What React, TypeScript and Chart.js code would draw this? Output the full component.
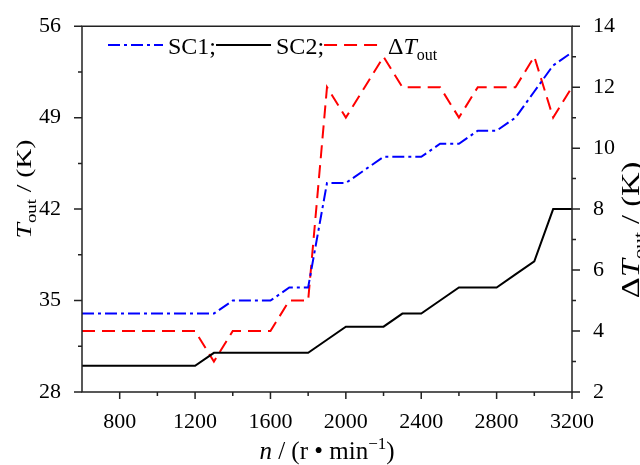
import React, { useEffect, useRef } from "react";
import { Chart, registerables } from "chart.js";

Chart.register(...registerables);

// ---- data ----
const speeds = [600, 700, 800, 900, 1000, 1100, 1200, 1300, 1400, 1500, 1600, 1700, 1800, 1900, 2000, 2100, 2200, 2300, 2400, 2500, 2600, 2700, 2800, 2900, 3000, 3100, 3200];
const sc1 = [34, 34, 34, 34, 34, 34, 34, 34, 35, 35, 35, 36, 36, 44, 44, 45, 46, 46, 46, 47, 47, 48, 48, 49, 51, 53, 54];
const sc2 = [30, 30, 30, 30, 30, 30, 30, 31, 31, 31, 31, 31, 31, 32, 33, 33, 33, 34, 34, 35, 36, 36, 36, 37, 38, 42, 42];
const deltaT = [4, 4, 4, 4, 4, 4, 4, 3, 4, 4, 4, 5, 5, 12, 11, 12, 13, 12, 12, 12, 11, 12, 12, 12, 13, 11, 12];

const xTicks = [800, 1200, 1600, 2000, 2400, 2800, 3200];
const xMinorTicks = [1000, 1400, 1800, 2200, 2600, 3000];
const leftTicks = [28, 35, 42, 49, 56];
const leftMinorTicks = [31.5, 38.5, 45.5, 52.5];
const rightTicks = [2, 4, 6, 8, 10, 12, 14];
const rightMinorTicks = [3, 5, 7, 9, 11, 13];

const seriesNames = ["SC1;", "SC2;"];

const FONT = '"Liberation Serif", "Times New Roman", serif';
const BLUE = "#0000ff";
const RED = "#ff0000";
const BLACK = "#000000";
const FRAME = "#222222";
const BLUE_DASH = [12, 4, 3, 4];
const RED_DASH = [13, 7];

type Seg = { t: string; italic?: boolean; sub?: boolean; sup?: boolean };

function segFont(s: Seg, size: number) {
  const sz = s.sub || s.sup ? Math.round(size * 0.66) : size;
  return `${s.italic ? "italic " : ""}${sz}px ${FONT}`;
}

function richWidth(ctx: CanvasRenderingContext2D, segs: Seg[], size: number) {
  let w = 0;
  for (const s of segs) {
    ctx.font = segFont(s, size);
    w += ctx.measureText(s.t).width;
  }
  return w;
}

function drawRich(ctx: CanvasRenderingContext2D, segs: Seg[], x: number, y: number, size: number, center: boolean) {
  const total = richWidth(ctx, segs, size);
  let cx = center ? x - total / 2 : x;
  ctx.textBaseline = "alphabetic";
  ctx.textAlign = "left";
  for (const s of segs) {
    ctx.font = segFont(s, size);
    const dy = s.sub ? size * 0.24 : s.sup ? -size * 0.4 : 0;
    ctx.fillText(s.t, cx, y + dy);
    cx += ctx.measureText(s.t).width;
  }
  return total;
}

const decorPlugin = {
  id: "decor",
  afterDraw(chart: any) {
    const ctx: CanvasRenderingContext2D = chart.ctx;
    const { left, right, top, bottom } = chart.chartArea;
    const xs = chart.scales.x;
    const yl = chart.scales.y;
    const yr = chart.scales.y1;
    ctx.save();
    // frame
    ctx.strokeStyle = FRAME;
    ctx.lineWidth = 1.5;
    ctx.setLineDash([]);
    ctx.beginPath();
    ctx.rect(left, top, right - left, bottom - top);
    ctx.stroke();
    // ticks
    ctx.beginPath();
    for (const v of leftTicks) { const p = yl.getPixelForValue(v); ctx.moveTo(left - 8, p); ctx.lineTo(left, p); }
    for (const v of leftMinorTicks) { const p = yl.getPixelForValue(v); ctx.moveTo(left - 4, p); ctx.lineTo(left, p); }
    for (const v of rightTicks) { const p = yr.getPixelForValue(v); ctx.moveTo(right, p); ctx.lineTo(right + 8, p); }
    for (const v of rightMinorTicks) { const p = yr.getPixelForValue(v); ctx.moveTo(right, p); ctx.lineTo(right + 4, p); }
    for (const v of xTicks) { const p = xs.getPixelForValue(v); ctx.moveTo(p, bottom); ctx.lineTo(p, bottom + 7); }
    for (const v of xMinorTicks) { const p = xs.getPixelForValue(v); ctx.moveTo(p, bottom); ctx.lineTo(p, bottom + 4); }
    ctx.stroke();

    ctx.fillStyle = BLACK;
    // left title
    ctx.save();
    ctx.translate(31, 189);
    ctx.rotate(-Math.PI / 2);
    ctx.scale(1.25, 1);
    drawRich(ctx, [{ t: "T", italic: true }, { t: "out", sub: true }, { t: " / (K)" }], 0, 0, 22, true);
    ctx.restore();
    // right title
    ctx.save();
    ctx.translate(639, 230);
    ctx.rotate(-Math.PI / 2);
    ctx.scale(1.25, 1);
    drawRich(ctx, [{ t: "Δ" }, { t: "T", italic: true }, { t: "out", sub: true }, { t: " / (K)" }], 0, 0, 26, true);
    ctx.restore();
    // bottom title
    drawRich(ctx, [{ t: "n", italic: true }, { t: " / (r • min" }, { t: "−1", sup: true }, { t: ")" }], 327, 459, 25, true);

    // legend
    const ly = 45;
    const lb = 54;
    const lsize = 24;
    const lineLen = 55;
    let x = 108;
    const legendLine = (color: string, dash: number[]) => {
      ctx.save();
      ctx.strokeStyle = color;
      ctx.lineWidth = 2;
      ctx.setLineDash(dash);
      ctx.beginPath();
      ctx.moveTo(x, ly);
      ctx.lineTo(x + lineLen, ly);
      ctx.stroke();
      ctx.restore();
      x += lineLen;
    };
    legendLine(BLUE, BLUE_DASH);
    x += 5;
    x += drawRich(ctx, [{ t: seriesNames[0] }], x, lb, lsize, false);
    legendLine(BLACK, []);
    x += 5;
    x += drawRich(ctx, [{ t: seriesNames[1] }], x, lb, lsize, false);
    legendLine(RED, RED_DASH);
    x += 9;
    drawRich(ctx, [{ t: "Δ" }, { t: "T", italic: true }, { t: "out", sub: true }], x, lb, lsize, false);
    ctx.restore();
  },
};

const tickFont = { family: FONT, size: 22 };
const plainLabel = (v: any) => String(v);

export default function App() {
  const ref = useRef<HTMLCanvasElement | null>(null);
  useEffect(() => {
    if (!ref.current) return;
    const chart = new Chart(ref.current, {
      type: "line",
      data: {
        datasets: [
          {
            label: "SC1",
            data: speeds.map((s, i) => ({ x: s, y: sc1[i] })),
            borderColor: BLUE,
            borderWidth: 2,
            borderDash: BLUE_DASH,
            yAxisID: "y",
          },
          {
            label: "SC2",
            data: speeds.map((s, i) => ({ x: s, y: sc2[i] })),
            borderColor: BLACK,
            borderWidth: 2,
            yAxisID: "y",
          },
          {
            label: "ΔTout",
            data: speeds.map((s, i) => ({ x: s, y: deltaT[i] })),
            borderColor: RED,
            borderWidth: 2,
            borderDash: RED_DASH,
            yAxisID: "y1",
          },
        ],
      },
      options: {
        animation: false,
        responsive: false,
        maintainAspectRatio: false,
        layout: { padding: { top: 25, left: 0, right: 0, bottom: 0 } },
        plugins: { legend: { display: false }, tooltip: { enabled: false } },
        elements: { point: { radius: 0 }, line: { tension: 0, fill: false } },
        scales: {
          x: {
            type: "linear",
            min: 600,
            max: 3200,
            afterBuildTicks: (s: any) => { s.ticks = xTicks.map((v) => ({ value: v })); },
            afterFit: (s: any) => { s.height = 73; },
            grid: { display: false },
            border: { display: false },
            ticks: { font: tickFont, color: BLACK, padding: 9, maxRotation: 0, autoSkip: false, callback: plainLabel },
          },
          y: {
            type: "linear",
            position: "left",
            min: 28,
            max: 56,
            afterBuildTicks: (s: any) => { s.ticks = leftTicks.map((v) => ({ value: v })); },
            afterFit: (s: any) => { s.width = 82; },
            grid: { display: false },
            border: { display: false },
            ticks: { font: tickFont, color: BLACK, padding: 13, autoSkip: false, callback: plainLabel },
          },
          y1: {
            type: "linear",
            position: "right",
            min: 2,
            max: 14,
            afterBuildTicks: (s: any) => { s.ticks = rightTicks.map((v) => ({ value: v })); },
            afterFit: (s: any) => { s.width = 68; },
            grid: { display: false },
            border: { display: false },
            ticks: { font: tickFont, color: BLACK, padding: 13, autoSkip: false, callback: plainLabel },
          },
        },
      },
      plugins: [decorPlugin],
    } as any);
    return () => chart.destroy();
  }, []);
  return (
    <div style={{ position: "absolute", left: 0, top: 0, width: 640, height: 465, background: "#fff" }}>
      <canvas ref={ref} width={640} height={465} style={{ display: "block", width: 640, height: 465 }} />
    </div>
  );
}
